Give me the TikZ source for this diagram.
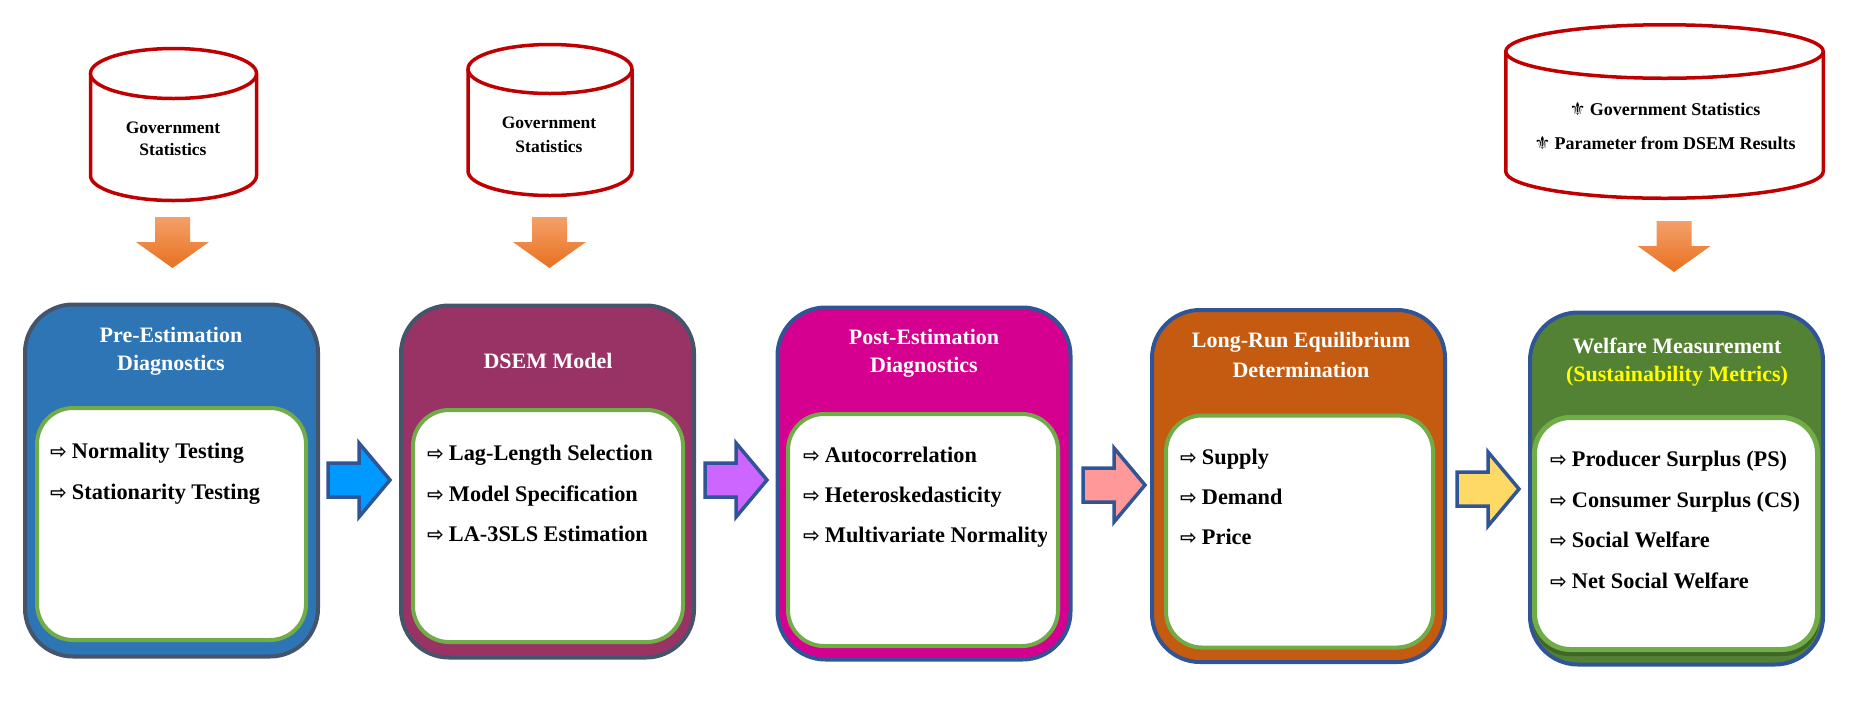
\documentclass[tikz,border=0pt]{standalone}
\usepackage{fontspec}
\setmainfont{Liberation Serif}
\newfontfamily\symfont{DejaVu Sans}
\definecolor{cylred}{HTML}{C00000}
\definecolor{bordgray}{HTML}{44546A}
\definecolor{bordblue}{HTML}{2F5597}
\definecolor{innergreen}{HTML}{70AD47}
\definecolor{fillA}{HTML}{2E75B6}
\definecolor{fillB}{HTML}{993366}
\definecolor{fillC}{HTML}{D5008F}
\definecolor{fillD}{HTML}{C55A11}
\definecolor{fillE}{HTML}{548235}
\definecolor{shadowE}{HTML}{3F6627}
\definecolor{arrA}{HTML}{0099FF}
\definecolor{arrB}{HTML}{CC66FF}
\definecolor{arrC}{HTML}{FF9999}
\definecolor{arrD}{HTML}{FFD966}
\definecolor{orangeTop}{HTML}{F4A06A}
\definecolor{orangeBot}{HTML}{E8701F}
\definecolor{yellowtxt}{HTML}{FFFF00}
\newcommand\arr{{\symfont\fontsize{20}{20}\selectfont ⇨}\hspace{5pt}}
\newcommand\flr{{\symfont\fontsize{18}{18}\selectfont ⚜}\hspace{4pt}}
% right block arrow: start x, tip y, fill colour
\newcommand\rightblock[3]{%
  \draw[rarrow, fill=#3] (#1,-#2+17) -- (#1+31,-#2+17) -- (#1+31,-#2+37) -- (#1+62,-#2)
    -- (#1+31,-#2-37) -- (#1+31,-#2-17) -- (#1,-#2-17) -- cycle;}
% down block arrow: centre x, top y
\newcommand\downblock[2]{%
  \shade[top color=orangeTop, bottom color=orangeBot] (#1-17.5,-#2) -- (#1+17.5,-#2) -- (#1+17.5,-#2-25)
    -- (#1+36.5,-#2-25) -- (#1,-#2-51) -- (#1-36.5,-#2-25) -- (#1-17.5,-#2-25) -- cycle;}
% cylinder: cx, rx, ry, top-ellipse centre y, bottom-ellipse centre y
\newcommand\dbcyl[5]{%
  \draw[cyl] (#1-#2,-#4) -- (#1-#2,-#5) arc[start angle=180, end angle=360, x radius=#2, y radius=#3] -- (#1+#2,-#4);
  \draw[cyl] (#1,-#4) ellipse[x radius=#2, y radius=#3];}
\begin{document}
\begin{tikzpicture}[x=1pt,y=1pt,
  outerbox/.style={rounded corners=48pt, line width=4pt, minimum width=293pt, minimum height=352pt, inner sep=0pt},
  innerbox/.style={rounded corners=36pt, line width=4pt, draw=innergreen, fill=white, minimum height=232pt, inner sep=0pt},
  title/.style={anchor=base, inner sep=0pt, font=\fontsize{22}{26}\selectfont\bfseries, text=white},
  item/.style={anchor=base west, inner sep=0pt, font=\fontsize{22.3}{26}\selectfont\bfseries},
  cyltext/.style={anchor=base, inner sep=0pt, font=\fontsize{17.5}{20}\selectfont\bfseries},
  cyl/.style={draw=cylred, line width=3.5pt, fill=white},
  rarrow/.style={draw=bordblue, line width=3.5pt, line join=miter},
]
\useasboundingbox (0,0) rectangle (1851,-716);

% ---------- cylinders ----------
\dbcyl{173.5}{83}{25}{73.5}{175.5}
\node[cyltext] (c1a) at (173,-133) {Government};
\node[cyltext] (c1b) at (173,-155) {Statistics};

\dbcyl{550}{82}{24.5}{69}{171}
\node[cyltext] (c2a) at (549,-128) {Government};
\node[cyltext] (c2b) at (549,-152) {Statistics};

\dbcyl{1664.5}{158.75}{26.75}{51.5}{171.5}
\node[cyltext, font=\fontsize{18}{20}\selectfont\bfseries] (c3a) at (1665,-115) {\flr Government Statistics};
\node[cyltext, font=\fontsize{18}{20}\selectfont\bfseries] (c3b) at (1665,-149) {\flr Parameter from DSEM Results};

% ---------- down arrows ----------
\downblock{172.5}{217}
\downblock{549.5}{217}
\downblock{1674}{221}

% ---------- boxes ----------
\node[outerbox, draw=bordgray, fill=fillA] (b1) at (171.5,-480.5) {};
\node[innerbox, minimum width=269pt] (n1) at (171.5,-524) {};
\node[outerbox, draw=bordgray, fill=fillB] (b2) at (547.5,-481.5) {};
\node[innerbox, minimum width=270pt] (n2) at (548,-526) {};
\node[outerbox, draw=bordblue, fill=fillC] (b3) at (924,-483.5) {};
\node[innerbox, minimum width=270pt] (n3) at (923,-530) {};
\node[outerbox, draw=bordblue, fill=fillD] (b4) at (1298.5,-486) {};
\node[innerbox, minimum width=267pt] (n4) at (1299.5,-531.5) {};
\node[outerbox, draw=bordblue, fill=fillE] (b5) at (1676.5,-488.5) {};
\node[rounded corners=36pt, fill=shadowE, minimum width=286pt, minimum height=232pt, inner sep=0pt] (s5) at (1676,-540) {};
\node[innerbox, line width=5pt, minimum width=283pt] (n5) at (1676,-533.5) {};

% ---------- titles ----------
\node[title] (t1a) at (171,-342) {Pre-Estimation};
\node[title] (t1b) at (171,-370) {Diagnostics};
\node[title] (t2a) at (548,-368) {DSEM Model};
\node[title] (t3a) at (924,-344) {Post-Estimation};
\node[title] (t3b) at (924,-372) {Diagnostics};
\node[title] (t4a) at (1301,-347) {Long-Run Equilibrium};
\node[title] (t4b) at (1301,-377) {Determination};
\node[title] (t5a) at (1677,-353) {Welfare Measurement};
\node[title, text=yellowtxt] (t5b) at (1677,-381) {(Sustainability Metrics)};

% ---------- items ----------
\node[item] (i11) at (50,-458) {\arr Normality Testing};
\node[item] (i12) at (50,-499) {\arr Stationarity Testing};

\node[item] (i21) at (427,-460) {\arr Lag-Length Selection};
\node[item] (i22) at (427,-501) {\arr Model Specification};
\node[item] (i23) at (427,-541) {\arr LA-3SLS Estimation};

\node[item] (i31) at (803,-462) {\arr Autocorrelation};
\node[item] (i32) at (803,-502) {\arr Heteroskedasticity};
\begin{scope}
\clip (790,-520) rectangle (1046,-560);
\node[item] (i33) at (803,-542) {\arr Multivariate Normality};
\end{scope}

\node[item] (i41) at (1180,-464) {\arr Supply};
\node[item] (i42) at (1180,-504) {\arr Demand};
\node[item] (i43) at (1180,-544) {\arr Price};

\node[item] (i51) at (1550,-466) {\arr Producer Surplus (PS)};
\node[item] (i52) at (1550,-507) {\arr Consumer Surplus (CS)};
\node[item] (i53) at (1550,-547) {\arr Social Welfare};
\node[item] (i54) at (1550,-588) {\arr Net Social Welfare};

% ---------- right block arrows ----------
\rightblock{328}{480}{arrA}
\rightblock{705}{480}{arrB}
\rightblock{1083}{485}{arrC}
\rightblock{1457}{489}{arrD}
\end{tikzpicture}
\end{document}
